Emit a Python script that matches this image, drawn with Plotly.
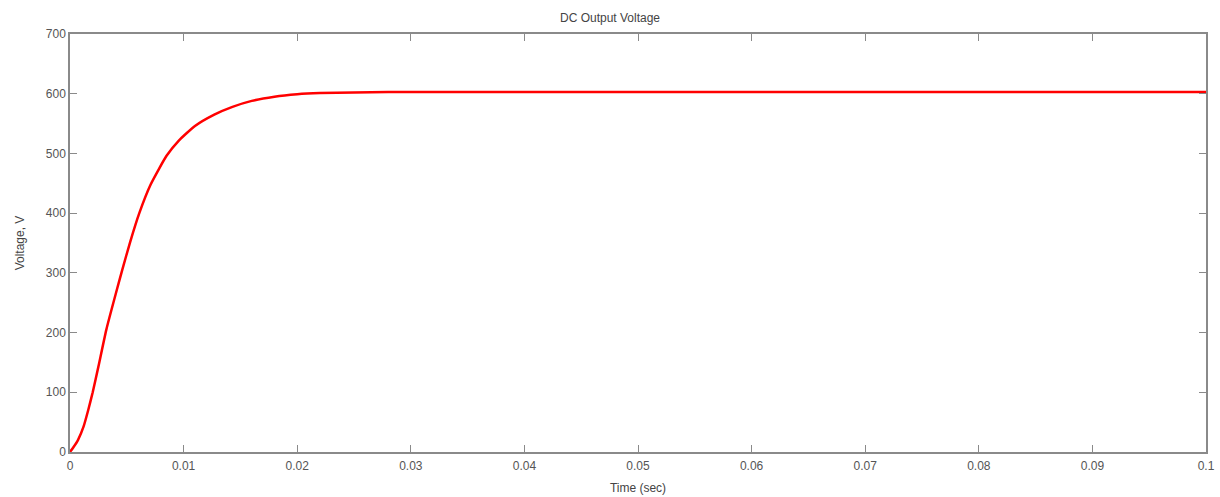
import plotly.graph_objects as go

time_s = [0, 0.0003, 0.0007, 0.0012, 0.0016, 0.0020, 0.0025, 0.0032, 0.0041, 0.0046,
          0.0053, 0.0061, 0.0071, 0.0085, 0.0096, 0.0110, 0.0127, 0.0143, 0.0160,
          0.0180, 0.0200, 0.0220, 0.0250, 0.0280, 0.0320, 0.040, 0.050, 0.060,
          0.070, 0.080, 0.090, 0.100]
voltage_v = [0, 8, 20, 43, 70, 100, 143, 205, 270, 305,
             352, 400, 448, 496, 522, 546, 565, 578, 588,
             595, 599, 601, 602, 603, 603, 603, 603, 603,
             603, 603, 603, 603]

x_ticks = [0, 0.01, 0.02, 0.03, 0.04, 0.05, 0.06, 0.07, 0.08, 0.09, 0.1]
x_tick_text = ["0", "0.01", "0.02", "0.03", "0.04", "0.05", "0.06", "0.07", "0.08", "0.09", "0.1"]
y_ticks = [0, 100, 200, 300, 400, 500, 600, 700]

FONT = "Liberation Sans, Arial, sans-serif"

fig = go.Figure()
fig.add_trace(go.Scatter(x=time_s, y=voltage_v, mode="lines",
                         line=dict(color="#ff0000", width=2.5, shape="spline", smoothing=0.5),
                         showlegend=False))

axis_common = dict(showline=True, linecolor="#8a8a8a", linewidth=1.5, mirror="allticks",
                   ticks="inside", ticklen=7, tickwidth=1.3, tickcolor="#8a8a8a",
                   showgrid=False, zeroline=False, automargin=False,
                   tickfont=dict(family=FONT, size=12, color="#555555"))

fig.update_xaxes(range=[0, 0.1], tickvals=x_ticks, ticktext=x_tick_text, ticklabelstandoff=2,
                 title=dict(text="Time (sec)", standoff=11,
                            font=dict(family=FONT, size=12, color="#444444")),
                 **axis_common)
fig.update_yaxes(range=[0, 700], tickvals=y_ticks,
                 title=dict(text="Voltage, V", standoff=19,
                            font=dict(family=FONT, size=12, color="#444444")),
                 **axis_common)

fig.update_layout(
    width=1220, height=497, autosize=False,
    margin=dict(l=70, r=14, t=34, b=45, autoexpand=False),
    paper_bgcolor="white", plot_bgcolor="white",
    title=dict(text="DC Output Voltage", x=0.5, xanchor="center", y=0.964, yanchor="middle",
               font=dict(family=FONT, size=12, color="#444444")),
)

fig.write_html("out.html", config={"displayModeBar": False},
               post_script="document.body.style.margin='0';document.body.style.overflow='hidden';")
